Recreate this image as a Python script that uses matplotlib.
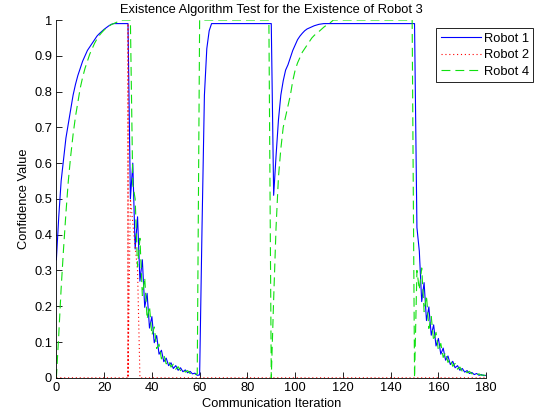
import matplotlib
matplotlib.use('Agg')
import matplotlib.pyplot as plt

plt.rcParams['font.family'] = ['Liberation Sans', 'DejaVu Sans']

# iteration axis: 0..180
iterations = list(range(181))

# Robot 1 (blue, solid)
r1_rise1 = [0.33, 0.45, 0.55, 0.61, 0.67, 0.71, 0.75, 0.79, 0.82, 0.845, 0.865, 0.885,
            0.90, 0.915, 0.925, 0.935, 0.945, 0.955, 0.962, 0.968, 0.974, 0.979, 0.984, 0.988, 0.99]
r1_top1 = [0.99] * 6
r1_decay1 = [0.50, 0.60, 0.36, 0.45, 0.27, 0.33, 0.197, 0.236, 0.139, 0.171, 0.098, 0.118,
             0.066, 0.077, 0.045, 0.055, 0.034, 0.042, 0.026, 0.034, 0.021, 0.028, 0.017,
             0.022, 0.014, 0.018, 0.011, 0.013, 0.007, 0.008]
r1_rise2 = [0.42, 0.79, 0.92, 0.97, 0.99]
r1_top2 = [0.99] * 25
r1_rise3 = [0.51, 0.62, 0.72, 0.79, 0.83, 0.86, 0.875, 0.895, 0.915, 0.93, 0.945, 0.955,
            0.963, 0.97, 0.975, 0.978, 0.981, 0.984, 0.986, 0.988, 0.989, 0.99, 0.99, 0.99, 0.99]
r1_top3 = [0.99] * 35
r1_decay2 = [0.42, 0.354, 0.213, 0.266, 0.160, 0.198, 0.119, 0.148, 0.089, 0.110, 0.066,
             0.083, 0.049, 0.061, 0.037, 0.046, 0.028, 0.034, 0.021, 0.026, 0.016, 0.020,
             0.012, 0.015, 0.009, 0.012, 0.007, 0.009, 0.006, 0.007]
robot1 = r1_rise1 + r1_top1 + r1_decay1 + r1_rise2 + r1_top2 + r1_rise3 + r1_top3 + r1_decay2

# Robot 2 (red, dotted) - leaves at iteration 30
robot2_x = [0, 30, 30, 30, 31, 34, 35, 180]
robot2_y = [0, 0, 0.99, 0, 0.5, 0.3, 0, 0]

# Robot 4 (green, dashed)
r4_rise1 = [0.0, 0.12, 0.25, 0.36, 0.46, 0.55, 0.62, 0.68, 0.73, 0.77, 0.81, 0.84, 0.865,
            0.885, 0.905, 0.92, 0.935, 0.947, 0.957, 0.965, 0.972, 0.978, 0.983, 0.987, 0.99,
            0.993, 0.996, 1.0, 1.0, 1.0, 1.0]
r4_decay1 = [1.0, 0.54, 0.50, 0.31, 0.39, 0.23, 0.28, 0.164, 0.20, 0.119, 0.142, 0.082,
             0.094, 0.053, 0.065, 0.039, 0.048, 0.030, 0.038, 0.024, 0.031, 0.020, 0.025,
             0.016, 0.020, 0.012, 0.015, 0.009, 0.011]
r4_top2 = [1.0] * 30
r4_rise2 = [0.0, 0.22, 0.42, 0.56, 0.64, 0.70, 0.73, 0.76, 0.79, 0.83, 0.86, 0.88, 0.895,
            0.91, 0.92, 0.93, 0.94, 0.95, 0.957, 0.963, 0.968, 0.974, 0.98, 0.985, 0.99, 0.994]
r4_top3 = [1.0] * 34
r4_decay2 = [0.0, 0.30, 0.246, 0.307, 0.185, 0.230, 0.138, 0.171, 0.103, 0.127, 0.076,
             0.096, 0.057, 0.071, 0.043, 0.053, 0.032, 0.040, 0.024, 0.030, 0.018, 0.022,
             0.014, 0.018, 0.011, 0.013, 0.008, 0.011, 0.007, 0.008, 0.005]
robot4 = r4_rise1 + r4_decay1 + r4_top2 + r4_rise2 + r4_top3 + r4_decay2

xticks = list(range(0, 181, 20))
yticks = [i / 10 for i in range(11)]
ytick_labels = ['0', '0.1', '0.2', '0.3', '0.4', '0.5', '0.6', '0.7', '0.8', '0.9', '1']

fs = 9.3
fig = plt.figure(figsize=(5.42, 4.17), dpi=100)
ax = fig.add_axes([0.104, 0.094, 0.793, 0.858])

ax.plot(iterations, robot1, color='#0000ff', lw=0.8, label='Robot 1')
ax.plot(robot2_x, robot2_y, color='#ff0000', lw=0.8, linestyle=(0, (1, 2.5)), label='Robot 2')
ax.plot(iterations, robot4, color='#10e010', lw=0.8, linestyle=(0, (8, 4.5)), label='Robot 4')

ax.set_xlim(0, 180)
ax.set_ylim(0, 1)
ax.set_xticks(xticks)
ax.set_yticks(yticks)
ax.set_yticklabels(ytick_labels)
ax.tick_params(direction='in', length=4, width=0.6, labelsize=fs, colors='black', pad=3)
ax.spines['top'].set_visible(False)
ax.spines['right'].set_visible(False)
for s in ('left', 'bottom'):
    ax.spines[s].set_linewidth(0.6)

ax.set_title('Existence Algorithm Test for the Existence of Robot 3', fontsize=fs, pad=5)
ax.set_xlabel('Communication Iteration', fontsize=fs, labelpad=3)
ax.set_ylabel('Confidence Value', fontsize=fs, labelpad=3)

leg = ax.legend(loc='upper left', bbox_to_anchor=(436 / 542, 1 - 28 / 417),
                bbox_transform=fig.transFigure, fontsize=fs, handlelength=3.1,
                fancybox=False, framealpha=1, borderaxespad=0, labelspacing=0.35,
                borderpad=0.35, handletextpad=0.25)
leg.get_frame().set_edgecolor('black')
leg.get_frame().set_linewidth(0.6)

fig.savefig('out.png', dpi=100)
